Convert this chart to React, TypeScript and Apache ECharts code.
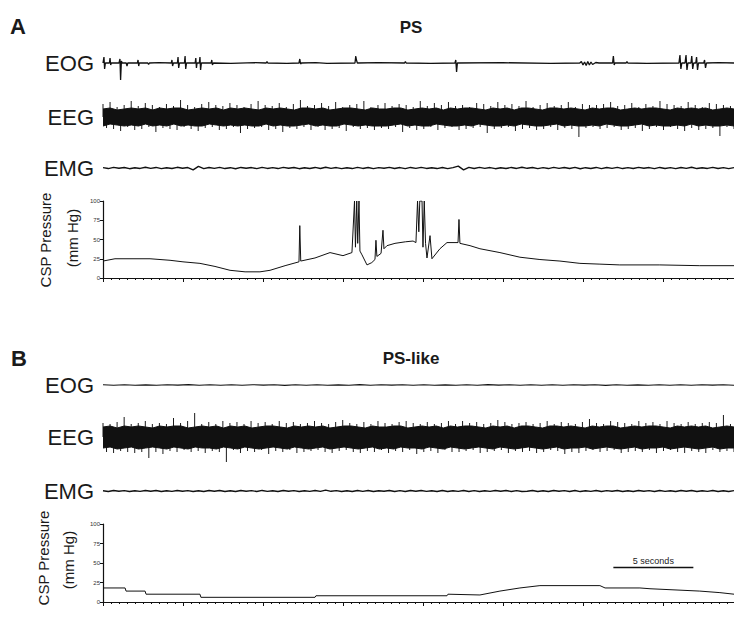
import { useEffect, useRef } from "react";
import * as echarts from "echarts";

// ---------------- data ----------------
const TOTAL_SECONDS = 39.44; // visible recording length (s)
const TICK_SECONDS = 5;
const pressureTicks = [0, 25, 50, 75, 100];

// Panel A (PS) – EOG events [time s, amplitude]
const eogA: [number, number][] = [
  [0, 0], [0.06, 6], [0.1, -6], [0.15, 0], [0.4, 0], [0.44, 5], [0.48, -2], [0.52, 0],
  [1.0, 0], [1.06, 4], [1.1, -17], [1.15, 2], [1.2, 0], [1.45, 0], [1.5, -3], [1.55, 0],
  [2.15, 0], [2.19, 3], [2.23, -3], [2.27, 0], [2.8, 0], [2.85, -1.5], [2.9, 0], [3.5, 0.3],
  [4.27, 0], [4.31, 3], [4.35, -3], [4.4, 0], [4.65, 0], [4.69, 6], [4.73, -5], [4.78, 0],
  [5.09, 0], [5.13, 7], [5.17, -6], [5.22, 0], [5.76, 0], [5.8, 5], [5.84, -5], [5.88, 0],
  [6.02, 0], [6.06, 6], [6.1, -7], [6.15, 0], [6.76, 0], [6.8, 3], [6.84, -2], [6.9, 0],
  [8, -0.3], [9.5, 0.3], [10.2, 0], [10.25, 1.5], [10.3, 0], [11.5, -0.3],
  [12.25, 0], [12.3, 4], [12.35, -1], [12.4, 0], [13.3, 0.3], [14, -0.3],
  [15.75, 0], [15.8, 7], [15.84, 3], [15.9, 0], [17.2, 0.3], [18.85, 0], [18.9, 1.5], [18.95, 0],
  [20.5, -0.3], [22.0, 0], [22.05, 3], [22.1, -9], [22.15, 0], [25, 0.3], [28, -0.3],
  [29.8, 0], [29.9, 1.5], [30.0, -2], [30.1, 1], [30.2, -2.5], [30.3, 1.5], [30.4, -2], [30.5, 1],
  [30.6, -1.5], [30.8, 0.5], [31.0, 0], [31.85, 0], [31.9, 7], [31.95, -2], [32.0, 0],
  [32.7, 0], [32.75, 1.5], [32.8, 0], [34, -0.3], [36.0, 0], [36.06, 8], [36.12, -6], [36.18, 0],
  [36.38, 0], [36.44, 8], [36.5, -7], [36.56, 0], [36.75, 0], [36.8, 7], [36.86, -6], [36.92, 0],
  [37.05, 0], [37.1, 6], [37.16, -7], [37.22, 0], [37.55, 0], [37.6, 3], [37.66, -5], [37.72, 0],
  [38.5, 0.3], [39.44, 0],
];

// Panel A EEG – dense core (upper / lower edge) plus individual excursions
const eegACoreUpper = [
  8, 9, 7, 8, 9, 8, 9, 7, 9, 8, 9, 9, 7, 8, 9, 8, 9, 7, 9, 8,
  9, 8, 7, 9, 8, 9, 8, 7, 9, 9, 8, 9, 7, 8, 9, 9, 8, 7, 9, 8,
  8, 9, 9, 7, 8, 9, 8, 9, 7, 9, 8, 9, 9, 8, 7, 9, 8, 9, 7, 9,
  9, 8, 7, 9, 9, 8, 9, 8, 7, 9, 8, 9, 9, 7, 8, 9, 8, 9, 9, 8,
  7, 9, 8, 9, 8, 9, 7, 8, 9, 8,
];
const eegACoreLower = [
  -9, -7, -8, -9, -8, -9, -7, -9, -8, -9, -7, -9, -8, -9, -9, -7, -8, -9, -8, -9,
  -8, -9, -9, -7, -9, -8, -9, -9, -8, -7, -9, -8, -9, -9, -7, -8, -9, -8, -9, -9,
  -9, -8, -7, -9, -8, -9, -9, -7, -8, -9, -9, -8, -9, -7, -8, -9, -9, -8, -9, -7,
  -8, -9, -9, -8, -7, -9, -8, -9, -9, -8, -9, -7, -8, -9, -9, -8, -7, -9, -8, -9,
  -9, -8, -9, -7, -9, -8, -9, -9, -8, -9,
];
const eegANeedles = [
  13, -11, 15, -12, 10, -14, 12, -10, 16, -13, 11, -12, 14, -10, 12, -15, 10, -11, 13, -12,
  11, -13, 17, -10, 12, -12, 10, -14, 13, -11, 15, -10, 12, -13, 11, -12, 14, -10, 12, -16,
  10, -12, 13, -11, 16, -10, 12, -13, 11, -12, 14, -15, 10, -11, 13, -12, 17, -10, 11, -13,
  12, -10, 14, -13, 11, -12, 15, -11, 10, -14, 12, -10, 13, -12, 16, -11, 10, -13, 12, -11,
  14, -12, 11, -10, 13, -15, 12, -11, 10, -13, 16, -12, 11, -10, 14, -13, 12, -11, 15, -10,
  11, -13, 12, -12, 10, -11, 14, -10, 13, -16, 11, -12, 15, -11, 12, -10, 13, -14, 11, -12,
  16, -11, 10, -13, 12, -12, 14, -10, 11, -13, 12, -11, 15, -12, 10, -20, 13, -11, 12, -10,
  12, -12, 13, -11, 15, -10, 11, -13, 12, -12, 14, -11, 10, -14, 13, -12, 11, -10, 16, -13,
  13, -10, 12, -12, 11, -14, 15, -11, 12, -13, 10, -12, 14, -11, 13, -19, 12, -10, 11, -12,
];

// Panel A EMG
const emgA = [
  0.6, -0.9, 1, -0.5, 0.8, -1.1, 0.4, -0.7, 1.2, -0.6, 0.9, -1, 0.5, -0.8, 1.1, -0.4, 0.7, -3, 2.6, -0.9,
  0.8, -0.6, 1, -0.9, 0.5, -1.2, 0.9, -0.5, 0.7, -1, 1.1, -0.7, 0.6, -0.9, 1, -0.5, 0.8, -1.1, 0.5, -0.7,
  0.9, -0.8, 1.2, -0.6, 0.7, -1, 0.5, -0.9, 1, -0.7, 0.8, -1.1, 0.6, -0.5, 1, -0.8, 0.7, -1, 0.9, -0.6,
  1.1, -0.7, 0.5, -0.9, 0.8, -1, 0.6, 3, -3, 0.9, -0.8, 1, -0.6, 0.7, -1.1, 0.5, -0.8, 0.9, -0.7, 1.2,
  -0.5, 0.8, -1, 0.6, -0.9, 1.1, -0.6, 0.7, -0.8, 1, -1.2, 0.5, -0.7, 0.9, -1, 0.8, -0.6, 1.1, -0.9, 0.6,
  -0.8, 1, -0.5, 0.7, -1.1, 0.9, -0.7, 0.6, -1, 0.8, -0.6, 1.2, -0.9, 0.5, -0.7, 1, -0.8, 0.6, -1, 0.7,
];

// Panel A CSP pressure [time s, mmHg]
const cspA: [number, number][] = [
  [0, 22], [0.75, 25], [2.94, 25], [4.19, 23], [5, 21], [6.06, 19], [7, 15], [7.94, 10],
  [8.88, 8], [9.81, 8], [10.44, 10], [11.38, 16], [12.25, 21], [12.3, 68], [12.36, 22],
  [13.25, 26], [14.19, 33], [15.0, 29], [15.56, 33], [15.72, 100], [15.78, 40], [15.86, 100],
  [15.92, 45], [16.0, 100], [16.06, 35], [16.19, 30], [16.5, 17], [16.8, 20], [17.0, 24],
  [17.06, 49], [17.12, 28], [17.38, 32], [17.5, 62], [17.56, 38], [17.75, 42], [18.25, 45],
  [18.9, 47], [19.38, 48], [19.56, 46], [19.66, 100], [19.74, 60], [19.8, 100], [19.94, 100],
  [20.0, 40], [20.08, 100], [20.16, 45], [20.25, 26], [20.44, 55], [20.56, 25], [21.06, 38],
  [21.5, 46], [22.19, 46], [22.25, 76], [22.31, 45], [22.94, 42], [23.56, 38], [24.81, 33],
  [26.06, 27], [27.31, 24], [28.56, 22], [29.81, 19], [31.06, 18], [32.3, 17], [34.8, 17],
  [37.3, 16], [39.44, 16],
];

// Panel B (PS-like)
const eogB = [
  0.3, -0.4, 0.5, -0.3, 0.2, -0.5, 0.4, -0.2, 0.6, -0.4, 0.3, -0.5, 0.4, -0.3, 0.5, -0.2, 0.3, -0.6, 0.4, -0.3,
  0.5, -0.4, 0.2, -0.3, 0.6, -0.5, 0.3, -0.2, 0.4, -0.4, 0.5, -0.3, 0.2, -0.5, 0.4, -0.3, 0.6, -0.2, 0.3, -0.4,
  0.4, -0.5, 0.3, -0.3, 0.5, -0.2, 0.4, -0.6, 0.3, -0.4, 0.2, -0.3, 0.5, -0.4, 0.3, -0.5, 0.4, -0.2, 0.3, -0.3,
];

const eegBCoreUpper = [
  10, 11, 9, 11, 10, 11, 10, 9, 11, 10, 11, 11, 9, 10, 11, 10, 11, 9, 11, 10,
  11, 9, 10, 11, 11, 10, 9, 11, 10, 11, 10, 11, 9, 10, 11, 11, 10, 9, 11, 10,
  10, 11, 11, 9, 10, 11, 10, 11, 9, 11, 10, 11, 11, 10, 9, 11, 10, 11, 9, 11,
  11, 10, 9, 11, 11, 10, 11, 10, 9, 11, 10, 11, 11, 9, 10, 11, 10, 11, 11, 10,
  9, 11, 10, 11, 10, 11, 9, 10, 11, 10,
];
const eegBCoreLower = [
  -11, -10, -12, -11, -10, -12, -11, -10, -11, -12, -10, -11, -12, -10, -11, -11, -12, -10, -11, -12,
  -10, -11, -12, -11, -10, -11, -12, -10, -11, -12, -11, -10, -12, -11, -10, -11, -12, -11, -10, -12,
  -11, -12, -10, -11, -11, -12, -10, -11, -12, -10, -11, -12, -11, -10, -11, -12, -10, -11, -12, -11,
  -10, -11, -12, -11, -10, -12, -11, -11, -10, -12, -11, -10, -11, -12, -11, -10, -12, -11, -11, -10,
  -12, -11, -10, -11, -12, -11, -10, -12, -11, -11,
];
const eegBNeedles = [
  14, -15, 13, -16, 15, -14, 20, -15, 13, -16, 14, -15, 16, -21, 13, -15, 14, -17, 13, -14,
  19, -15, 14, -13, 16, -15, 24, -14, 13, -16, 15, -14, 13, -15, 16, -26, 14, -13, 15, -16,
  13, -14, 16, -15, 14, -13, 15, -17, 13, -14, 16, -15, 14, -13, 15, -16, 13, -15, 14, -14,
  16, -13, 14, -15, 13, -16, 15, -14, 17, -13, 14, -15, 13, -16, 15, -14, 13, -15, 16, -13,
  14, -16, 13, -14, 15, -15, 16, -13, 14, -17, 13, -15, 15, -14, 13, -16, 14, -13, 16, -15,
  13, -15, 16, -14, 14, -13, 15, -16, 13, -15, 14, -14, 17, -13, 15, -16, 13, -14, 14, -15,
  15, -14, 13, -16, 14, -15, 16, -13, 13, -14, 15, -17, 14, -15, 13, -16, 15, -14, 18, -13,
  14, -15, 13, -14, 16, -13, 15, -16, 14, -15, 13, -14, 16, -15, 14, -13, 15, -16, 13, -14,
  16, -13, 14, -15, 13, -16, 15, -14, 13, -15, 14, -16, 15, -13, 14, -15, 22, -14, 13, -15,
];

const emgB = [
  0.5, -0.7, 0.8, -0.5, 0.6, -0.9, 0.4, -0.6, 0.9, -0.5, 0.7, -0.8, 0.5, -0.6, 0.8, -0.4, 0.6, -0.7, 0.5, -0.8,
  0.7, -0.5, 0.8, -0.7, 0.4, -0.9, 0.7, -0.4, 0.6, -0.8, 0.9, -0.6, 0.5, -0.7, 0.8, -0.4, 0.6, -0.9, 0.4, -0.6,
  0.7, -0.6, 1.4, -0.5, 0.6, -0.8, 0.4, -0.7, 0.8, -0.6, 0.7, -0.9, 0.5, -0.4, 0.8, -0.7, 0.6, -0.8, 0.7, -0.5,
  0.9, -0.6, 0.4, -0.7, 0.7, -0.8, 0.5, -0.6, 0.7, -0.7, 0.6, -0.8, 0.5, -0.6, 0.9, -0.4, 0.7, -0.7, 0.6, -0.9,
  -0.4, 0.7, -0.8, 0.5, -0.7, 0.9, -0.5, 0.6, -0.7, 0.8, -0.9, 0.4, -0.6, 0.7, -0.8, 0.6, -0.5, 0.9, -0.7, 0.5,
  -0.7, 0.8, -0.4, 0.6, -0.9, 0.7, -0.6, 0.5, -0.8, 0.7, -0.5, 0.9, -0.7, 0.4, -0.6, 0.8, -0.7, 0.5, -0.8, 0.6,
];

const cspB: [number, number][] = [
  [0, 18], [1.38, 18], [1.44, 14], [2.63, 14], [2.69, 10], [6.06, 10], [6.12, 6], [13.25, 6],
  [13.31, 8], [21.5, 8], [21.56, 10], [23.56, 9], [24.81, 14], [26.06, 18], [27.31, 21],
  [31.06, 21], [31.38, 18], [33.56, 18], [34.19, 17], [37.3, 14], [38.56, 12], [39.44, 10],
];

const SCALE_BAR_START = 31.9; // s
const SCALE_BAR_LENGTH = 5; // s
const SCALE_BAR_LEVEL = 44; // mmHg
const SCALE_BAR_LABEL = "5 seconds";

// ---------------- helpers ----------------
const evenly = (vals: number[]) => {
  const step = TOTAL_SECONDS / (vals.length - 1);
  return vals.map((v, i) => [i * step, v]);
};

const FONT = "'Liberation Sans', Arial, Helvetica, sans-serif";
const INK = "#111";
const LEFT = 103;

type PanelDef = { top: number; height: number; range: number | null };

const grids: PanelDef[] = [
  { top: 45, height: 36, range: 18 }, // A EOG
  { top: 97, height: 40, range: 20 }, // A EEG
  { top: 158, height: 20, range: 16 }, // A EMG
  { top: 201, height: 77, range: null }, // A CSP
  { top: 375, height: 20, range: 16 }, // B EOG
  { top: 412, height: 50, range: 25 }, // B EEG
  { top: 481, height: 20, range: 16 }, // B EMG
  { top: 524, height: 78, range: null }, // B CSP
];

export default function App() {
  const ref = useRef<HTMLDivElement>(null);

  useEffect(() => {
    document.body.style.margin = "0";
    if (!ref.current) return;
    const chart = echarts.init(ref.current, undefined, { renderer: "svg" });

    const xAxis = grids.map((g, i) => {
      const isPressure = g.range === null;
      return {
        type: "value",
        gridIndex: i,
        min: 0,
        max: TOTAL_SECONDS,
        interval: TICK_SECONDS,
        show: isPressure,
        axisLine: { show: isPressure, lineStyle: { color: INK, width: 1.2 } },
        axisTick: { show: isPressure, length: 4, lineStyle: { color: INK, width: 1 } },
        minorTick: { show: isPressure, splitNumber: 10, length: 2, lineStyle: { color: INK, width: 1 } },
        axisLabel: { show: false },
        splitLine: { show: false },
        minorSplitLine: { show: false },
      };
    });

    const yAxis = grids.map((g, i) => {
      if (g.range === null) {
        return {
          type: "value",
          gridIndex: i,
          min: pressureTicks[0],
          max: pressureTicks[pressureTicks.length - 1],
          interval: pressureTicks[1] - pressureTicks[0],
          axisLine: { show: true, lineStyle: { color: INK, width: 1.2 } },
          axisTick: { show: true, length: 3, lineStyle: { color: INK } },
          axisLabel: { show: true, fontSize: 6, color: "#333", margin: 3, fontFamily: FONT },
          splitLine: { show: false },
        };
      }
      return {
        type: "value",
        gridIndex: i,
        min: -g.range,
        max: g.range,
        show: false,
        splitLine: { show: false },
      };
    });

    const line = (idx: number, data: any[], width: number, extra: any = {}) => ({
      type: "line",
      xAxisIndex: idx,
      yAxisIndex: idx,
      data,
      showSymbol: false,
      symbol: "none",
      silent: true,
      animation: false,
      lineStyle: { color: INK, width },
      ...extra,
    });

    const needles = (idx: number, data: any[]) => ({
      type: "bar",
      xAxisIndex: idx,
      yAxisIndex: idx,
      data,
      barWidth: 1,
      silent: true,
      animation: false,
      itemStyle: { color: "#1a1a1a" },
    });

    const band = { areaStyle: { color: INK, opacity: 1, origin: 0 } };

    const series = [
      line(0, eogA, 1.3),
      needles(1, evenly(eegANeedles)),
      line(1, evenly(eegACoreUpper), 1, band),
      line(1, evenly(eegACoreLower), 1, band),
      line(2, evenly(emgA), 1.4),
      line(3, cspA, 1),
      line(4, evenly(eogB), 1.1),
      needles(5, evenly(eegBNeedles)),
      line(5, evenly(eegBCoreUpper), 1, band),
      line(5, evenly(eegBCoreLower), 1, band),
      line(6, evenly(emgB), 1.4),
      line(7, cspB, 1, {
        markLine: {
          silent: true,
          symbol: ["none", "none"],
          animation: false,
          lineStyle: { color: INK, width: 1.3, type: "solid" },
          label: {
            show: true,
            position: "middle",
            formatter: SCALE_BAR_LABEL,
            fontSize: 9,
            color: "#222",
            distance: 2,
            fontFamily: FONT,
          },
          data: [
            [
              { coord: [SCALE_BAR_START, SCALE_BAR_LEVEL] },
              { coord: [SCALE_BAR_START + SCALE_BAR_LENGTH, SCALE_BAR_LEVEL] },
            ],
          ],
        },
      }),
    ];

    const txt = (x: number, y: number, text: string, size: number, opts: any = {}) => ({
      type: "text",
      x,
      y,
      silent: true,
      rotation: opts.rotation || 0,
      style: {
        text,
        fontSize: size,
        fontFamily: FONT,
        fontWeight: opts.bold ? "bold" : "normal",
        fill: "#1a1a1a",
        textAlign: opts.align || "center",
        textVerticalAlign: "middle",
      },
    });

    const graphic = [
      txt(10, 26, "A", 22, { bold: true, align: "left" }),
      txt(411, 27, "PS", 17, { bold: true }),
      txt(94, 63, "EOG", 22, { align: "right" }),
      txt(94, 117, "EEG", 22, { align: "right" }),
      txt(94, 168, "EMG", 22, { align: "right" }),
      txt(45, 240, "CSP Pressure", 15, { rotation: Math.PI / 2 }),
      txt(72, 238, "(mm Hg)", 15, { rotation: Math.PI / 2 }),
      txt(11, 358, "B", 22, { bold: true, align: "left" }),
      txt(411, 358, "PS-like", 17, { bold: true }),
      txt(94, 385, "EOG", 22, { align: "right" }),
      txt(94, 437, "EEG", 22, { align: "right" }),
      txt(94, 491, "EMG", 22, { align: "right" }),
      txt(43, 558, "CSP Pressure", 15, { rotation: Math.PI / 2 }),
      txt(68, 560, "(mm Hg)", 15, { rotation: Math.PI / 2 }),
    ];

    chart.setOption({
      animation: false,
      backgroundColor: "#ffffff",
      grid: grids.map((g) => ({ left: LEFT, right: 0, top: g.top, height: g.height, containLabel: false })),
      xAxis,
      yAxis,
      series,
      graphic,
    });

    return () => chart.dispose();
  }, []);

  return <div ref={ref} style={{ width: 734, height: 619 }} />;
}
